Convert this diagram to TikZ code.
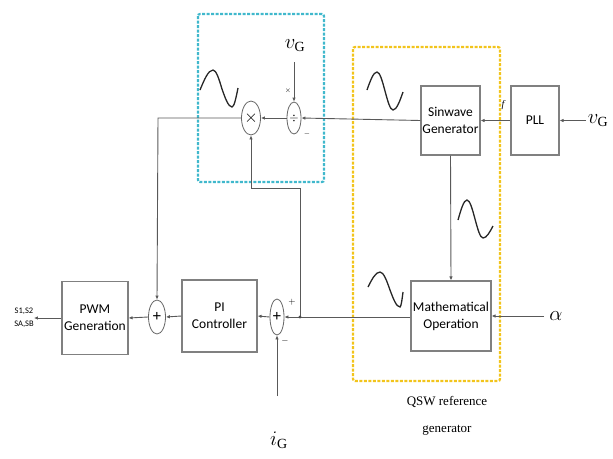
\documentclass[tikz,border=0pt]{standalone}
\usepackage{fontspec}
\setmainfont{Liberation Serif}
\newfontfamily\boxfont{Carlito}
\usetikzlibrary{shapes.geometric,arrows.meta}
\begin{document}
\begin{tikzpicture}[x=1pt,y=-1pt,
  blk/.style={draw=black!50, line width=1.1pt, fill=white, font=\boxfont\fontsize{13.5}{17}\selectfont, align=center, inner sep=0pt},
  op/.style={draw=black!60, ellipse, line width=0.8pt, minimum width=14pt, minimum height=34pt, inner sep=0pt, fill=white},
  wire/.style={draw=black!65, line width=0.9pt},
  arr/.style={wire, -{Latex[length=4pt,width=3.5pt]}},
  wave/.style={draw=black!85, line width=1.3pt},
  lbl/.style={inner sep=0pt, font=\fontsize{20}{22}\selectfont},
  tiny/.style={inner sep=0pt, font=\fontsize{7}{8}\selectfont},
]
\useasboundingbox (0,0) rectangle (613,458);

% dashed group frames
\draw[line width=2.2pt, color={rgb,255:red,64;green,184;blue,204}, dash pattern=on 3pt off 1.5pt, rounded corners=2pt]
  (198,14) rectangle (324,182);
\draw[line width=2.2pt, color={rgb,255:red,242;green,196;blue,28}, dash pattern=on 3pt off 1.5pt, rounded corners=2pt]
  (353,47) rectangle (500,381);

% blocks
\node[blk, minimum width=59pt, minimum height=69pt] (sin) at (450.5,120.5) {Sinwave\\Generator};
\node[blk, minimum width=48pt, minimum height=69pt] (pll) at (535,120.5) {PLL};
\node[blk, minimum width=80pt, minimum height=70pt] (math) at (451,316) {Mathematical\\Operation};
\node[blk, minimum width=75pt, minimum height=72pt] (pi) at (219.5,316) {PI\\Controller};
\node[blk, minimum width=66pt, minimum height=73pt] (pwm) at (95,318) {PWM\\Generation};

% operators
\node[op] (mult) at (251,118) {\fontsize{17}{17}\selectfont$\mathbf{\times}$};
\node[op, minimum height=32pt] (div) at (294,118) {\fontsize{13}{13}\selectfont$\div$};
\node[op, minimum height=36pt] (sumb) at (277,317) {\fontsize{16}{16}\selectfont\textbf{+}};
\node[op, minimum width=17pt] (suma) at (157,317) {\fontsize{16}{16}\selectfont\textbf{+}};

% labels / inputs
\node[lbl] (vgt) at (295,46) {$v_{\mathrm{G}}$};
\node[lbl] (vgr) at (598,121) {$v_{\mathrm{G}}$};
\node[lbl] (alpha) at (556,316) {$\alpha$};
\node[lbl] (ig) at (279,440) {$i_{\mathrm{G}}$};
\node[inner sep=0pt, align=center, font=\boxfont\fontsize{8.5}{13}\selectfont] (out) at (24,318) {S1,S2\\SA,SB};
\node[inner sep=0pt, align=center, font=\fontsize{13}{27}\selectfont] (qsw) at (447,416) {QSW reference\\generator};
\node[inner sep=0pt, font=\itshape\fontsize{10}{10}\selectfont] (flbl) at (503,105) {f};
\node[tiny] (dx) at (288,91) {$\times$};
\node[tiny] (dm) at (307,134) {$-$};
\node[tiny, font=\fontsize{9}{9}\selectfont] (sp) at (292,302) {$+$};
\node[tiny, font=\fontsize{9}{9}\selectfont] (sm) at (285,341) {$-$};

% connectors
\coordinate (vgrs) at (586,120.5);
\coordinate (vgts) at (294,62);
\coordinate (igs) at (277,396);
\coordinate (alps) at (544,316);
\coordinate (j) at (300,317);
\coordinate (c1) at (158,118);
\coordinate (c2) at (300,188);
\coordinate (c3) at (251,188);

\draw[arr] (vgrs) -- (pll.east);
\draw[arr] (pll.west) -- (sin.east);
\draw[arr] (sin.west) -- (div.east);
\draw[arr] (div.west) -- (mult.east);
\draw[arr] (vgts) -- (div.north);
\draw[arr] (mult.west) -- (c1) -- (suma.north);
\draw[arr] (sin.south) -- (math.north);
\draw[arr] (alps) -- (math.east);
\draw[arr] (math.west |- j) -- (sumb.east);
\draw[arr] (j) -- (c2) -- (c3) -- (mult.south);
\fill[black!70] (j) circle (1.6pt);
\draw[arr] (igs) -- (sumb.south);
\draw[arr] (sumb.west) -- (pi.east);
\draw[arr] (pi.west) -- (suma.east);
\draw[arr] (suma.west) -- (pwm.east);
\draw[arr] (pwm.west) -- (out.east);

% sine sketches
\draw[wave] (200,90) sin (213,70) cos (222,89) sin (232,107) cos (238,88);
\draw[wave] (367,90) sin (377,72) cos (385,91) sin (393,110) cos (403,92);
\draw[wave] (458,220) sin (467,200) cos (475,219) sin (483,238) cos (493,226);
\draw[wave] (368,287) sin (380,272) cos (390,290) sin (400,307) cos (403,292);
\end{tikzpicture}
\end{document}
